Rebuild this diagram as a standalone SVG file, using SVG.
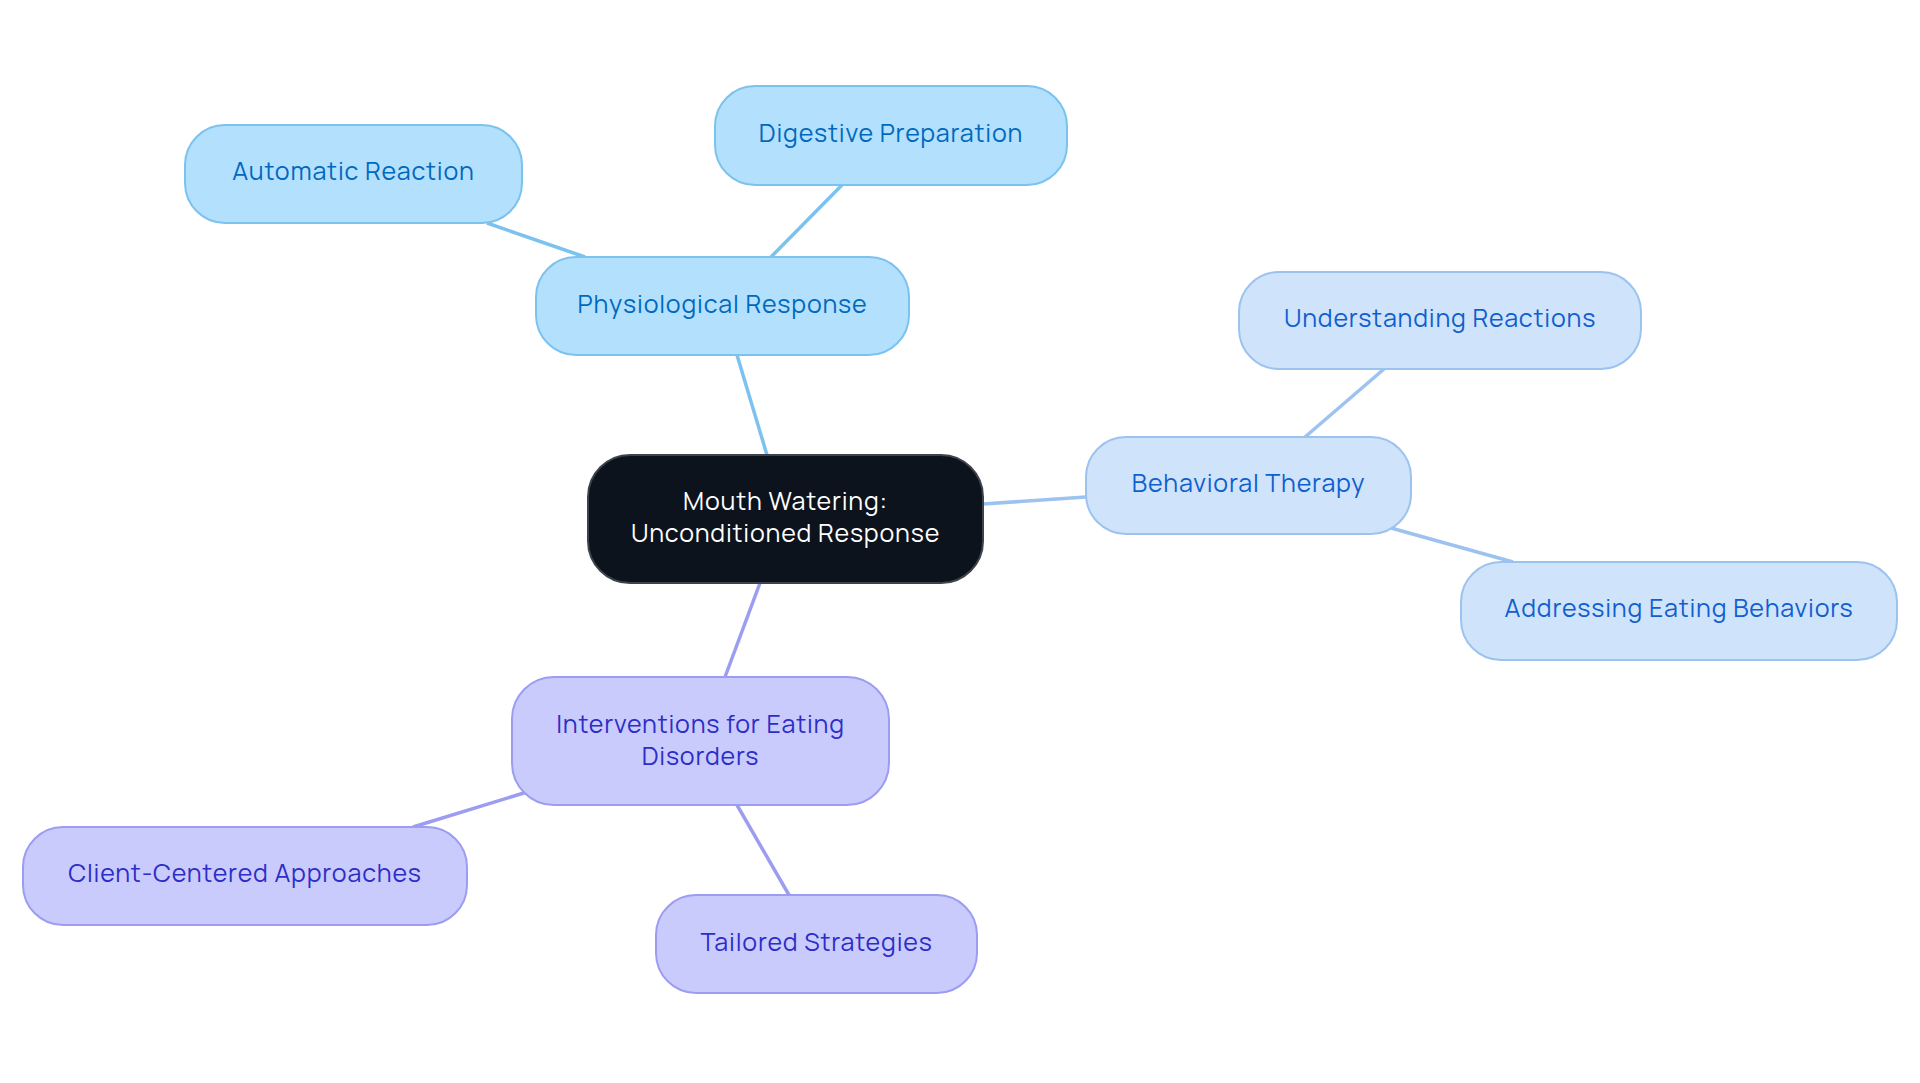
<svg xmlns="http://www.w3.org/2000/svg" width="1920" height="1083" viewBox="0 0 1920 1083">
<style>
text{font-family:Manrope,Inter,"Noto Sans",sans-serif;font-size:25px;letter-spacing:0.8px;text-anchor:middle;dominant-baseline:central}
.c rect{fill:#0d131c;stroke:#3d434b;stroke-width:2}
.c text{fill:#ffffff}
.p rect{fill:#b3e0fd;stroke:#7cc2ee;stroke-width:2}
.p text{fill:#0069bf}
.b rect{fill:#cfe3fa;stroke:#9cc3ef;stroke-width:2}
.b text{fill:#0f5fcf}
.i rect{fill:#c9cbfd;stroke:#9c9df0;stroke-width:2}
.i text{fill:#2d2dc7}
.e line{stroke-width:3.5;fill:none}
</style>
<rect width="1920" height="1083" fill="#ffffff"/>
<g id="edges" class="e">
<line x1="767" y1="455" x2="737" y2="355" stroke="#7cc2ee"/>
<line x1="585" y1="257" x2="487" y2="223" stroke="#7cc2ee"/>
<line x1="771" y1="257" x2="842" y2="185" stroke="#7cc2ee"/>
<line x1="983" y1="504" x2="1086" y2="497" stroke="#9cc3ef"/>
<line x1="1305" y1="437" x2="1384" y2="369" stroke="#9cc3ef"/>
<line x1="1391" y1="528" x2="1513" y2="562" stroke="#9cc3ef"/>
<line x1="760" y1="583" x2="725" y2="677" stroke="#9c9df0"/>
<line x1="527" y1="792" x2="413" y2="827" stroke="#9c9df0"/>
<line x1="737" y1="805" x2="789" y2="895" stroke="#9c9df0"/>
</g>
<g id="center" class="c">
<rect x="588" y="455" width="395" height="128" rx="42"/>
<text x="785.5" y="500">Mouth Watering:</text>
<text x="785.5" y="532">Unconditioned Response</text>
</g>
<g id="physiological" class="p">
<rect x="536" y="257" width="373" height="98" rx="40"/>
<text x="722.5" y="303">Physiological Response</text>
</g>
<g id="digestive" class="p">
<rect x="715" y="86" width="352" height="99" rx="40"/>
<text x="891" y="132">Digestive Preparation</text>
</g>
<g id="automatic" class="p">
<rect x="185" y="125" width="337" height="98" rx="40"/>
<text x="353.5" y="170">Automatic Reaction</text>
</g>
<g id="behavioral" class="b">
<rect x="1086" y="437" width="325" height="97" rx="40"/>
<text x="1248.5" y="482">Behavioral Therapy</text>
</g>
<g id="understanding" class="b">
<rect x="1239" y="272" width="402" height="97" rx="40"/>
<text x="1440" y="317">Understanding Reactions</text>
</g>
<g id="addressing" class="b">
<rect x="1461" y="562" width="436" height="98" rx="40"/>
<text x="1679" y="607">Addressing Eating Behaviors</text>
</g>
<g id="interventions" class="i">
<rect x="512" y="677" width="377" height="128" rx="42"/>
<text x="700.5" y="723">Interventions for Eating</text>
<text x="700.5" y="755">Disorders</text>
</g>
<g id="client" class="i">
<rect x="23" y="827" width="444" height="98" rx="40"/>
<text x="245" y="872">Client-Centered Approaches</text>
</g>
<g id="tailored" class="i">
<rect x="656" y="895" width="321" height="98" rx="40"/>
<text x="816.5" y="941">Tailored Strategies</text>
</g>
</svg>
